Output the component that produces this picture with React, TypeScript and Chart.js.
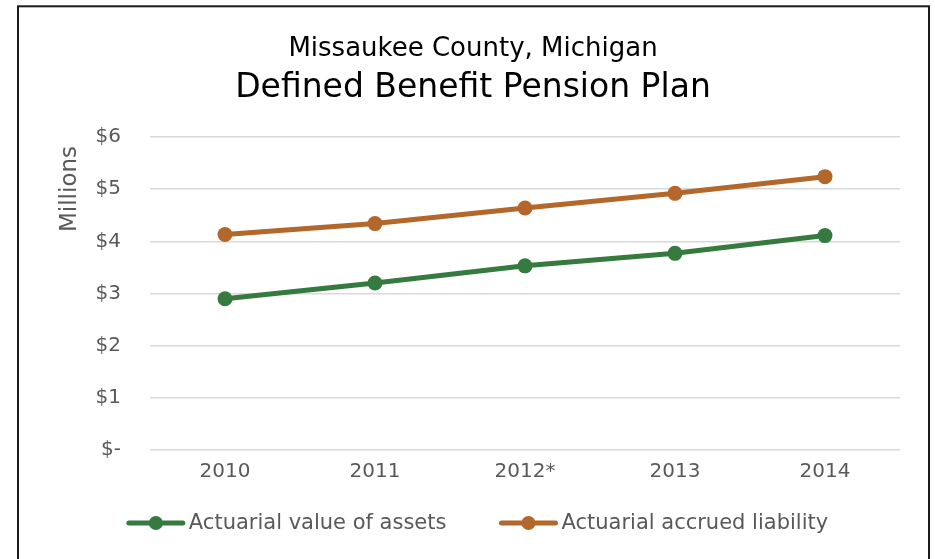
import React, { useEffect, useRef } from 'react';
import { Chart, registerables } from 'chart.js';

Chart.register(...registerables);

const years = ['2010', '2011', '2012*', '2013', '2014'];
const assetValues = [2.9, 3.2, 3.53, 3.77, 4.11];
const liabilityValues = [4.13, 4.34, 4.64, 4.92, 5.24];
const seriesNames = ['Actuarial value of assets', 'Actuarial accrued liability'];
const seriesColors = ['#357A3F', '#B3672A'];
const titleLine1 = 'Missaukee County, Michigan';
const titleLine2 = 'Defined Benefit Pension Plan';
const yAxisTitle = 'Millions';
const yMin = 0;
const yMax = 6;
const yStep = 1;

const FONT = '"DejaVu Sans", sans-serif';
const TEXT_GRAY = '#595959';

const decorations = {
  id: 'decorations',
  beforeDraw(chart: any) {
    const { ctx, width, height } = chart;
    ctx.save();
    ctx.fillStyle = '#ffffff';
    ctx.fillRect(0, 0, width, height);
    ctx.strokeStyle = '#1a1a1a';
    ctx.lineWidth = 2;
    ctx.strokeRect(18, 6.3, 911, 600);
    ctx.restore();
  },
  afterDraw(chart: any) {
    const { ctx } = chart;
    ctx.save();
    // titles
    ctx.fillStyle = '#000000';
    ctx.textAlign = 'center';
    ctx.textBaseline = 'alphabetic';
    ctx.font = `26px ${FONT}`;
    ctx.fillText(titleLine1, 473, 56);
    ctx.font = `33px ${FONT}`;
    ctx.fillText(titleLine2, 473, 97);
    // y axis title
    ctx.fillStyle = TEXT_GRAY;
    ctx.font = `23px ${FONT}`;
    ctx.translate(76, 189);
    ctx.rotate(-Math.PI / 2);
    ctx.textBaseline = 'alphabetic';
    ctx.fillText(yAxisTitle, 0, 0);
    ctx.restore();

    // legend
    ctx.save();
    ctx.font = `21px ${FONT}`;
    const ds = chart.data.datasets;
    const lineLen = 58;
    const textGap = 4;
    const itemGap = 53;
    const widths = ds.map((d: any) => lineLen + textGap + ctx.measureText(d.label).width);
    const total = widths.reduce((a: number, b: number) => a + b, 0) + itemGap * (ds.length - 1);
    let x = 477.5 - total / 2;
    const y = 523;
    ds.forEach((d: any, i: number) => {
      ctx.strokeStyle = d.borderColor;
      ctx.lineWidth = 5;
      ctx.lineCap = 'round';
      ctx.beginPath();
      ctx.moveTo(x + 2, y);
      ctx.lineTo(x + lineLen - 2, y);
      ctx.stroke();
      ctx.fillStyle = d.borderColor;
      ctx.beginPath();
      ctx.arc(x + lineLen / 2, y, 7, 0, Math.PI * 2);
      ctx.fill();
      ctx.fillStyle = TEXT_GRAY;
      ctx.textAlign = 'left';
      ctx.textBaseline = 'middle';
      ctx.fillText(d.label, x + lineLen + textGap, y + 1);
      x += widths[i] + itemGap;
    });
    ctx.restore();
  },
};

export default function App() {
  const canvasRef = useRef<HTMLCanvasElement | null>(null);

  useEffect(() => {
    document.body.style.margin = '0';
    const canvas = canvasRef.current;
    if (!canvas) return;
    const chart = new Chart(canvas, {
      type: 'line',
      data: {
        labels: years,
        datasets: [
          {
            label: seriesNames[0],
            data: assetValues,
            borderColor: seriesColors[0],
            backgroundColor: seriesColors[0],
            borderWidth: 5,
            pointRadius: 7.5,
            pointBorderWidth: 0,
            pointBackgroundColor: seriesColors[0],
            tension: 0,
          },
          {
            label: seriesNames[1],
            data: liabilityValues,
            borderColor: seriesColors[1],
            backgroundColor: seriesColors[1],
            borderWidth: 5,
            pointRadius: 7.5,
            pointBorderWidth: 0,
            pointBackgroundColor: seriesColors[1],
            tension: 0,
          },
        ],
      },
      options: {
        animation: false,
        responsive: false,
        maintainAspectRatio: false,
        devicePixelRatio: 1,
        layout: { padding: { top: 137, left: 17, right: 35, bottom: 69 } },
        plugins: {
          legend: { display: false },
          title: { display: false },
          tooltip: { enabled: false },
        },
        scales: {
          x: {
            type: 'category',
            offset: true,
            grid: { display: false, drawTicks: false },
            border: { display: false },
            ticks: {
              color: TEXT_GRAY,
              font: { family: FONT, size: 20 },
              padding: 10,
              maxRotation: 0,
            },
            afterFit: (s: any) => {
              s.height = 40;
            },
          },
          y: {
            min: yMin,
            max: yMax,
            grid: { color: '#d9d9d9', lineWidth: 1.5, drawTicks: false },
            border: { display: false },
            ticks: {
              stepSize: yStep,
              color: TEXT_GRAY,
              font: { family: FONT, size: 20 },
              padding: 29,
              callback: (v: any) => (Number(v) === 0 ? '$-' : '$' + v),
            },
            afterFit: (s: any) => {
              s.width = 133;
            },
          },
        },
      },
      plugins: [decorations],
    });
    return () => chart.destroy();
  }, []);

  return (
    <div style={{ position: 'absolute', left: 0, top: 0, width: 935, height: 559 }}>
      <canvas ref={canvasRef} width={935} height={559} style={{ display: 'block' }} />
    </div>
  );
}
